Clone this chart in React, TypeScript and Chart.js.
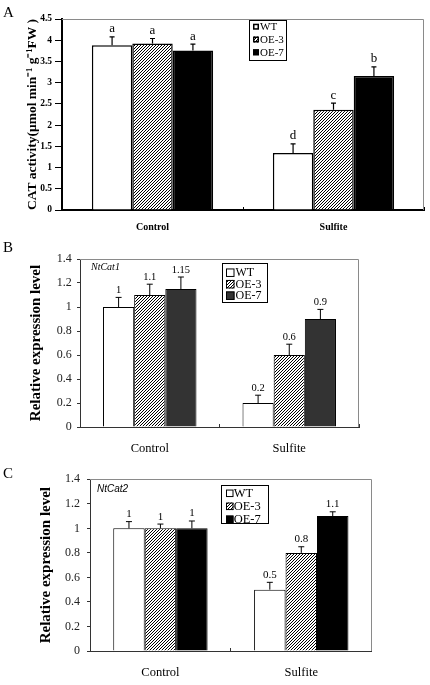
import React, { useEffect, useRef } from "react";
import { Chart, registerables } from "chart.js";

Chart.register(...registerables);

// ---------- data ----------
const categories = ["Control", "Sulfite"];
const seriesNames = ["WT", "OE-3", "OE-7"];

// Panel A: CAT activity (μmol min-1 g-1 FW)
const catWT = [3.88, 1.34];
const catOE3 = [3.92, 2.36];
const catOE7 = [3.76, 3.16];
const catErrWT = [0.2, 0.22];
const catErrOE3 = [0.12, 0.16];
const catErrOE7 = [0.15, 0.21];
const catMarkWT = ["a", "d"];
const catMarkOE3 = ["a", "c"];
const catMarkOE7 = ["a", "b"];

// Panel B: NtCat1 relative expression
const cat1WT = [1.0, 0.2];
const cat1OE3 = [1.1, 0.6];
const cat1OE7 = [1.15, 0.9];
const cat1ErrWT = [0.08, 0.065];
const cat1ErrOE3 = [0.09, 0.09];
const cat1ErrOE7 = [0.1, 0.08];
const cat1MarkWT = ["1", "0.2"];
const cat1MarkOE3 = ["1.1", "0.6"];
const cat1MarkOE7 = ["1.15", "0.9"];

// Panel C: NtCat2 relative expression
const cat2WT = [1.0, 0.5];
const cat2OE3 = [1.0, 0.8];
const cat2OE7 = [1.0, 1.1];
const cat2ErrWT = [0.055, 0.06];
const cat2ErrOE3 = [0.035, 0.05];
const cat2ErrOE7 = [0.06, 0.035];
const cat2MarkWT = ["1", "0.5"];
const cat2MarkOE3 = ["1", "0.8"];
const cat2MarkOE7 = ["1", "1.1"];

const yMaxA = 4.5;
const yStepA = 0.5;
const yMaxBC = 1.4;
const yStepBC = 0.2;

// ---------- styles / layout ----------
const SERIF = "'Liberation Serif', 'Times New Roman', serif";
const SANS = "'Liberation Sans', Arial, sans-serif";

type Series = { values: number[]; errors: number[]; marks: string[] };

const panels = [
  {
    key: "A",
    letter: "A",
    letterBaseline: 17,
    top: 0,
    height: 236,
    padTop: 19,
    padRight: 6,
    yWidth: 62,
    xHeight: 26,
    yMax: yMaxA,
    yStep: yStepA,
    yTitle: "CAT activity(\u03bcmol min\u207b\u00b9 g\u207b\u00b9FW )",
    yTitleFont: { family: SERIF, size: 13.5, weight: "bold" },
    yTitlePad: 24.4,
    tickFont: { family: SERIF, size: 9.5, weight: "bold" },
    tickColor: "#000",
    tickLen: 7,
    tickPad: 3,
    xFont: { family: SERIF, size: 10, weight: "bold" },
    xPad: 14.5,
    axisColor: "#000",
    axisWidth: 2,
    barBorder: 1.5,
    fills: ["#ffffff", "hatch", "#000000"],
    hatchPeriod: 3,
    hatchWidth: 1,
    errCap: 5,
    errWidth: 1.2,
    labelFont: `13px ${SERIF}`,
    labelGap: 4.5,
    legend: { x: 187, y: 1, w: 38, h: 41, first: 6.7, gap: 12.8, mx: 4, ms: 6, mb: 1.5, tx: 11, font: `11px ${SERIF}` },
    note: null as null | { text: string; dx: number; dy: number; font: string },
    series: [
      { values: catWT, errors: catErrWT, marks: catMarkWT },
      { values: catOE3, errors: catErrOE3, marks: catMarkOE3 },
      { values: catOE7, errors: catErrOE7, marks: catMarkOE7 },
    ] as Series[],
  },
  {
    key: "B",
    letter: "B",
    letterBaseline: 16,
    top: 236,
    height: 222,
    padTop: 23,
    padRight: 71,
    yWidth: 80,
    xHeight: 31,
    yMax: yMaxBC,
    yStep: yStepBC,
    yTitle: "Relative expression level",
    yTitleFont: { family: SERIF, size: 15, weight: "bold" },
    yTitlePad: 27.5,
    tickFont: { family: SERIF, size: 12 },
    tickColor: "#222",
    tickLen: 3,
    tickPad: 5.3,
    xFont: { family: SERIF, size: 12.5 },
    xPad: 16.8,
    axisColor: "#333",
    axisWidth: 1,
    barBorder: 1,
    fills: ["#ffffff", "hatch", "#333333"],
    hatchPeriod: 3,
    hatchWidth: 1,
    errCap: 6,
    errWidth: 1,
    labelFont: `10.5px ${SERIF}`,
    labelGap: 4.5,
    legend: { x: 141.7, y: 4.3, w: 45.6, h: 40, first: 9.4, gap: 11.5, mx: 4.3, ms: 8.5, mb: 1, tx: 13.8, font: `12px ${SERIF}` },
    note: { text: "NtCat1", dx: 11, dy: 8, font: `italic 10px ${SERIF}` },
    series: [
      { values: cat1WT, errors: cat1ErrWT, marks: cat1MarkWT },
      { values: cat1OE3, errors: cat1ErrOE3, marks: cat1MarkOE3 },
      { values: cat1OE7, errors: cat1ErrOE7, marks: cat1MarkOE7 },
    ] as Series[],
  },
  {
    key: "C",
    letter: "C",
    letterBaseline: 20,
    top: 458,
    height: 227,
    padTop: 21.3,
    padRight: 58.3,
    yWidth: 90,
    xHeight: 34,
    yMax: yMaxBC,
    yStep: yStepBC,
    yTitle: "Relative expression level",
    yTitleFont: { family: SERIF, size: 15, weight: "bold" },
    yTitlePad: 37,
    tickFont: { family: SERIF, size: 12 },
    tickColor: "#222",
    tickLen: 3,
    tickPad: 7,
    xFont: { family: SERIF, size: 12.5 },
    xPad: 17,
    axisColor: "#333",
    axisWidth: 1,
    barBorder: 1,
    fills: ["#ffffff", "hatch", "#000000"],
    hatchPeriod: 3,
    hatchWidth: 1,
    errCap: 6,
    errWidth: 1,
    labelFont: `11px ${SERIF}`,
    labelGap: 4.5,
    legend: { x: 130.7, y: 5.7, w: 47.6, h: 39, first: 8.3, gap: 13, mx: 5.3, ms: 7.5, mb: 1, tx: 13, font: `12.5px ${SERIF}` },
    note: { text: "NtCat2", dx: 7, dy: 10, font: `italic 10px ${SANS}` },
    series: [
      { values: cat2WT, errors: cat2ErrWT, marks: cat2MarkWT },
      { values: cat2OE3, errors: cat2ErrOE3, marks: cat2MarkOE3 },
      { values: cat2OE7, errors: cat2ErrOE7, marks: cat2MarkOE7 },
    ] as Series[],
  },
];

type PanelCfg = (typeof panels)[number];

function makeHatch(ctx: CanvasRenderingContext2D, p: number, lw: number) {
  const s = p * 4;
  const c = document.createElement("canvas");
  c.width = s;
  c.height = s;
  const g = c.getContext("2d")!;
  g.fillStyle = "#fff";
  g.fillRect(0, 0, s, s);
  g.strokeStyle = "#000";
  g.lineWidth = lw;
  g.beginPath();
  for (let k = -2 * s; k <= 2 * s; k += p) {
    g.moveTo(k, s);
    g.lineTo(k + s, 0);
  }
  g.stroke();
  return ctx.createPattern(c, "repeat")!;
}

const fmtTick = (v: number | string) => String(Math.round(Number(v) * 10) / 10);

function extrasPlugin(cfg: PanelCfg) {
  return {
    id: "panelExtras" + cfg.key,
    afterDraw(chart: any) {
      const { ctx, chartArea: ca } = chart;
      const y = chart.scales.y;
      ctx.save();
      // frame (top/right)
      ctx.strokeStyle = "#8a8a8a";
      ctx.lineWidth = 1;
      ctx.beginPath();
      ctx.moveTo(ca.left, Math.round(ca.top) + 0.5);
      ctx.lineTo(Math.round(ca.right) - 0.5, Math.round(ca.top) + 0.5);
      ctx.lineTo(Math.round(ca.right) - 0.5, ca.bottom);
      ctx.stroke();

      // error bars and marks
      chart.data.datasets.forEach((ds: any, di: number) => {
        const meta = chart.getDatasetMeta(di);
        meta.data.forEach((bar: any, i: number) => {
          const v = ds.data[i];
          const e = ds.errors[i];
          const yt = y.getPixelForValue(v + e);
          ctx.strokeStyle = "#000";
          ctx.lineWidth = cfg.errWidth;
          ctx.beginPath();
          ctx.moveTo(bar.x, bar.y);
          ctx.lineTo(bar.x, yt);
          ctx.moveTo(bar.x - cfg.errCap / 2, yt);
          ctx.lineTo(bar.x + cfg.errCap / 2, yt);
          ctx.stroke();
          ctx.fillStyle = "#000";
          ctx.font = cfg.labelFont;
          ctx.textAlign = "center";
          ctx.textBaseline = "alphabetic";
          ctx.fillText(ds.marks[i], bar.x, yt - cfg.labelGap);
        });
      });

      // legend
      const lg = cfg.legend;
      const bx = ca.left + lg.x;
      const by = ca.top + lg.y;
      ctx.save();
      ctx.fillStyle = "#fff";
      ctx.fillRect(bx, by, lg.w, lg.h);
      ctx.beginPath();
      ctx.rect(bx, by, lg.w, lg.h);
      ctx.clip();
      chart.data.datasets.forEach((ds: any, i: number) => {
        const cy = by + lg.first + i * lg.gap;
        const mx = bx + lg.mx;
        ctx.fillStyle = ds.backgroundColor;
        ctx.fillRect(mx, cy - lg.ms / 2, lg.ms, lg.ms);
        ctx.strokeStyle = "#000";
        ctx.lineWidth = lg.mb;
        ctx.strokeRect(mx + lg.mb / 2, cy - lg.ms / 2 + lg.mb / 2, lg.ms - lg.mb, lg.ms - lg.mb);
        ctx.fillStyle = "#000";
        ctx.font = lg.font;
        ctx.textAlign = "left";
        ctx.textBaseline = "middle";
        ctx.fillText(ds.label, bx + lg.tx, cy + 0.5);
      });
      ctx.restore();
      ctx.strokeStyle = "#000";
      ctx.lineWidth = 1;
      ctx.strokeRect(Math.round(bx) + 0.5, Math.round(by) + 0.5, Math.round(lg.w) - 1, Math.round(lg.h) - 1);

      // gene annotation
      if (cfg.note) {
        ctx.fillStyle = "#000";
        ctx.font = cfg.note.font;
        ctx.textAlign = "left";
        ctx.textBaseline = "middle";
        ctx.fillText(cfg.note.text, ca.left + cfg.note.dx, ca.top + cfg.note.dy);
      }

      // panel letter
      ctx.fillStyle = "#000";
      ctx.font = `15px ${SERIF}`;
      ctx.textAlign = "left";
      ctx.textBaseline = "alphabetic";
      ctx.fillText(cfg.letter, 3, cfg.letterBaseline);
      ctx.restore();
    },
  };
}

function Panel({ cfg }: { cfg: PanelCfg }) {
  const ref = useRef<HTMLCanvasElement>(null);
  useEffect(() => {
    const canvas = ref.current!;
    const ctx = canvas.getContext("2d")!;
    const hatch = makeHatch(ctx, cfg.hatchPeriod, cfg.hatchWidth);
    const fills = cfg.fills.map((f) => (f === "hatch" ? hatch : f));
    const chart = new Chart(canvas, {
      type: "bar",
      data: {
        labels: categories,
        datasets: cfg.series.map((s, i) => ({
          label: seriesNames[i],
          data: s.values,
          errors: s.errors,
          marks: s.marks,
          backgroundColor: fills[i] as any,
          borderColor: "#000",
          borderWidth: cfg.barBorder,
          categoryPercentage: 0.67,
          barPercentage: 1,
        })) as any,
      },
      options: {
        responsive: false,
        animation: false,
        events: [],
        layout: { padding: { left: 0, top: cfg.padTop, right: cfg.padRight, bottom: 0 } },
        plugins: {
          legend: { display: false },
          tooltip: { enabled: false },
        },
        scales: {
          x: {
            grid: {
              display: true,
              drawOnChartArea: false,
              drawTicks: true,
              tickLength: -3,
              color: cfg.axisColor,
              offset: true,
            },
            border: { display: true, color: cfg.axisColor, width: cfg.axisWidth },
            ticks: { font: cfg.xFont as any, color: "#000", padding: cfg.xPad },
            afterFit: (s: any) => {
              s.height = cfg.xHeight;
            },
          },
          y: {
            min: 0,
            max: cfg.yMax,
            grid: {
              drawOnChartArea: false,
              drawTicks: true,
              tickLength: cfg.tickLen,
              color: cfg.axisColor,
            },
            border: { display: true, color: cfg.axisColor, width: cfg.axisWidth },
            ticks: {
              stepSize: cfg.yStep,
              font: cfg.tickFont as any,
              color: cfg.tickColor,
              padding: cfg.tickPad,
              callback: (v: any) => fmtTick(v),
            },
            title: {
              display: true,
              text: cfg.yTitle,
              font: cfg.yTitleFont as any,
              color: "#000",
              padding: { top: cfg.yTitlePad, bottom: 0 },
            },
            afterFit: (s: any) => {
              s.width = cfg.yWidth;
            },
          },
        },
      },
      plugins: [extrasPlugin(cfg) as any],
    });
    return () => chart.destroy();
  }, [cfg]);
  return (
    <canvas
      ref={ref}
      width={430}
      height={cfg.height}
      style={{ position: "absolute", left: 0, top: cfg.top, display: "block", width: 430, height: cfg.height }}
    />
  );
}

export default function App() {
  return (
    <div style={{ position: "absolute", left: 0, top: 0, width: 430, height: 685, background: "#fff", overflow: "hidden" }}>
      {panels.map((p) => (
        <Panel key={p.key} cfg={p} />
      ))}
    </div>
  );
}
